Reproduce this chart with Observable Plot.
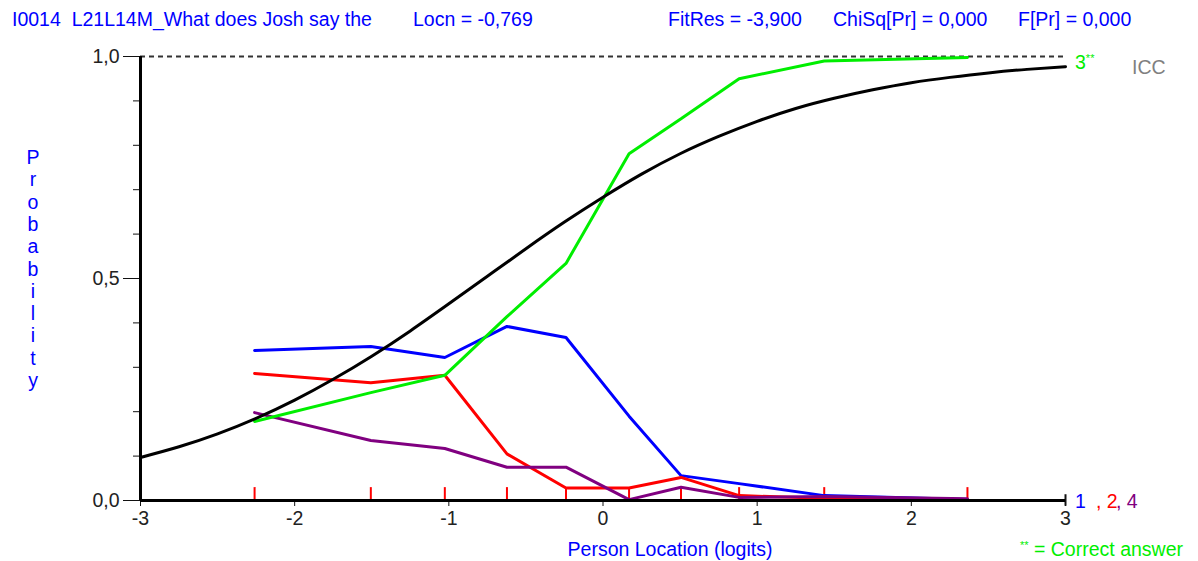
<!DOCTYPE html>
<html><head><meta charset="utf-8">
<script src="https://cdn.jsdelivr.net/npm/d3@7"></script>
<script src="https://cdn.jsdelivr.net/npm/@observablehq/plot@0.6"></script>
<style>
html,body{margin:0;padding:0;background:#fff;}
#chart{position:relative;width:1198px;height:561px;}
svg text{font-family:"Liberation Sans",Arial,sans-serif;}
</style></head><body><div id="chart"></div>
<script>
// Class-interval mean locations (red ticks) and observed proportions per option
const classMeans = [-2.26, -1.506, -1.026, -0.623, -0.24, 0.169, 0.506, 0.883, 1.435, 2.364];
const option1 = [0.338, 0.347, 0.322, 0.392, 0.367, 0.190, 0.056, 0.038, 0.011, 0.002];
const option2 = [0.286, 0.265, 0.282, 0.105, 0.028, 0.028, 0.052, 0.011, 0.005, 0.002];
const option3 = [0.178, 0.243, 0.282, 0.414, 0.534, 0.781, 0.860, 0.950, 0.990, 0.998];
const option4 = [0.198, 0.135, 0.117, 0.075, 0.075, 0.002, 0.030, 0.007, 0.009, 0.004];
// ICC
const iccX = [-3, -2.75, -2.5, -2.25, -2, -1.75, -1.5, -1.25, -1, -0.75, -0.5, -0.25, 0, 0.25, 0.5, 0.75, 1, 1.25, 1.5, 1.75, 2, 2.25, 2.5, 2.75, 3];
const iccP = [0.097, 0.121, 0.150, 0.185, 0.226, 0.273, 0.325, 0.382, 0.443, 0.505, 0.567, 0.627, 0.683, 0.735, 0.781, 0.820, 0.854, 0.883, 0.906, 0.925, 0.941, 0.953, 0.963, 0.971, 0.977];
const xTicks = [-3, -2, -1, 0, 1, 2, 3];
const yMajor = [0, 0.5, 1];
const yMinor = [0.1, 0.2, 0.3, 0.4, 0.6, 0.7, 0.8, 0.9];
const series = [
  {name: "1", values: option1, color: "#0000ff"},
  {name: "2", values: option2, color: "#ff0000"},
  {name: "4", values: option4, color: "#800080"},
  {name: "3", values: option3, color: "#00ee00"}
];
const header = [
  {text: "I0014  L21L14M_What does Josh say the", x: 12},
  {text: "Locn = -0,769", x: 413},
  {text: "FitRes = -3,900", x: 668},
  {text: "ChiSq[Pr] = 0,000", x: 833},
  {text: "F[Pr] = 0,000", x: 1018}
];

const lineData = series.flatMap(s => s.values.map((v, i) => ({x: classMeans[i], y: v, option: s.name, color: s.color})));
const icc = iccX.map((x, i) => ({x, y: iccP[i]}));
const fmt = d => d.toFixed(1).replace(".", ",");
const FS = 19.5;

const plot = Plot.plot({
  width: 1198, height: 561,
  marginLeft: 140, marginRight: 133, marginTop: 56, marginBottom: 61,
  style: {color: "#111", background: "#fff"},
  x: {domain: [-3, 3], axis: null},
  y: {domain: [0, 1], axis: null},
  marks: [
    Plot.ruleY([1], {stroke: "#333", strokeWidth: 2, strokeDasharray: "5,4"}),
    Plot.ruleX(classMeans, {y1: 0, y2: 0.029, stroke: "#ff0000", strokeWidth: 2}),
    Plot.axisY({ticks: yMinor, tickSize: 7, tickFormat: () => "", label: null, stroke: "#111"}),
    Plot.axisY({ticks: yMajor, tickSize: 17, tickPadding: 4, tickFormat: fmt, label: null, fontSize: FS, stroke: "#111", fill: "#222"}),
    Plot.axisX({ticks: xTicks, tickSize: 6, tickPadding: 5, tickFormat: d => String(d), label: null, fontSize: FS, stroke: "#111", fill: "#222"}),
    Plot.ruleX([3], {y1: -0.013, y2: 0.013, stroke: "#111", strokeWidth: 2}),
    Plot.line(lineData, {x: "x", y: "y", z: "option", stroke: "color", strokeWidth: 3, strokeLinejoin: "miter", curve: "linear"}),
    Plot.line(icc, {x: "x", y: "y", stroke: "#000", strokeWidth: 3, curve: "natural"}),
    Plot.ruleX([-3], {y1: 0, y2: 1, stroke: "#000", strokeWidth: 3}),
    Plot.ruleY([0], {x1: -3, x2: 3, stroke: "#000", strokeWidth: 3})
  ]
});
document.getElementById("chart").appendChild(plot);

const svg = d3.select(plot);
const g = svg.append("g").attr("font-size", FS).attr("text-anchor", "start");
header.forEach(h => g.append("text").attr("x", h.x).attr("y", 26).attr("fill", "#0000ff").text(h.text));
// right-side labels
const t3 = g.append("text").attr("x", 1075).attr("y", 69).attr("fill", "#00ee00");
t3.append("tspan").text("3");
t3.append("tspan").attr("font-size", 11).attr("dy", -7).text("**");
g.append("text").attr("x", 1132).attr("y", 74).attr("fill", "#808080").text("ICC");
g.append("text").attr("x", 1075).attr("y", 508).attr("fill", "#0000ff").text("1");
g.append("text").attr("x", 1096).attr("y", 508).attr("fill", "#ff0000").text(", 2");
g.append("text").attr("x", 1116).attr("y", 508).attr("fill", "#800080").text(", 4");
// axis titles
g.append("text").attr("x", 670).attr("y", 556).attr("text-anchor", "middle").attr("fill", "#0000ff").text("Person Location (logits)");
const ca = g.append("text").attr("x", 1020).attr("y", 556).attr("fill", "#00ee00");
ca.append("tspan").attr("font-size", 11).attr("dy", -7).text("**");
ca.append("tspan").attr("dy", 7).text(" = Correct answer");
"Probability".split("").forEach((c, i) =>
  g.append("text").attr("x", 33).attr("y", 164 + i * 22.3).attr("text-anchor", "middle").attr("fill", "#0000ff").text(c));
</script></body></html>
